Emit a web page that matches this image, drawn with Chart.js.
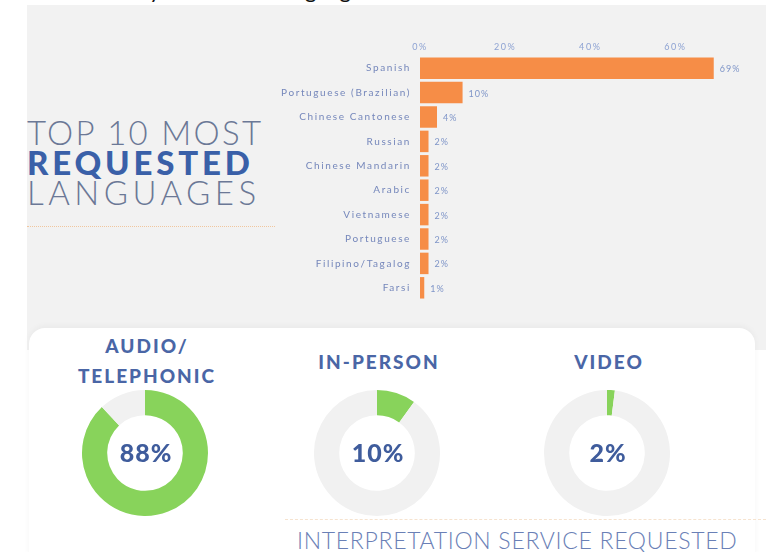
<!DOCTYPE html>
<html>
<head>
<meta charset="utf-8">
<script src="https://cdn.jsdelivr.net/npm/chart.js@4.4.0/dist/chart.umd.min.js"></script>
<style>
  html, body { margin: 0; padding: 0; background: #fff; }
  body { width: 766px; height: 552px; position: relative; overflow: hidden; font-family: Lato, sans-serif; }
  .head { position: absolute; left: 86px; top: -23px; font-size: 22px; line-height: 26px; color: #111; white-space: nowrap; }
  .grey { position: absolute; left: 27px; top: 5px; width: 739px; height: 345px; background: #f2f2f2; }
  .white { position: absolute; left: 29px; top: 328px; width: 726px; height: 240px; background: #fff;
           border-radius: 16px; box-shadow: 0 -2px 6px rgba(0,0,0,0.04); }
  .title { position: absolute; left: 27px; top: 117px; width: 260px; color: #6b7896; font-size: 33px;
           line-height: 30px; }
  .title div { white-space: nowrap; }
  .light { font-weight: 300; }
  .bold { font-weight: 900; color: #3a60a8; }
  .rule { position: absolute; left: 27px; top: 226px; width: 248px; border-top: 1px dotted #f1c79f; }
  .dtitle { position: absolute; text-align: center; font-weight: 900; color: #4a66a6; font-size: 19px;
            line-height: 30px; letter-spacing: 2px; }
  .foot { position: absolute; left: 297px; top: 526px; font-size: 23px; font-weight: 300; color: #6a80b6;
          white-space: nowrap; letter-spacing: 0.7px; }
  .fline { position: absolute; left: 285px; top: 519px; width: 481px; border-top: 1px dashed #f6e3cf; }
  canvas { position: absolute; }
</style>
</head>
<body>
<div class="head">Activity Overview: Languages</div>
<div class="grey"></div>
<div class="white"></div>

<div class="title">
  <div class="light" style="letter-spacing:2.3px">TOP 10 MOST</div>
  <div class="bold" style="letter-spacing:3.8px">REQUESTED</div>
  <div class="light" style="letter-spacing:4.5px">LANGUAGES</div>
</div>
<div class="rule"></div>

<div style="position:absolute;left:270px;top:30px;width:496px;height:285px;">
  <canvas id="langChart"></canvas>
</div>

<div class="dtitle" style="left:62px;top:331px;width:170px;">AUDIO/<br>TELEPHONIC</div>
<div class="dtitle" style="left:294px;top:347px;width:170px;">IN-PERSON</div>
<div class="dtitle" style="left:524px;top:347px;width:170px;">VIDEO</div>

<div style="position:absolute;left:82px;top:390px;width:126px;height:126px;"><canvas id="audio"></canvas></div>
<div style="position:absolute;left:314px;top:390px;width:126px;height:126px;"><canvas id="inperson"></canvas></div>
<div style="position:absolute;left:544px;top:390px;width:126px;height:126px;"><canvas id="video"></canvas></div>

<div class="fline"></div>
<div class="foot">INTERPRETATION SERVICE REQUESTED</div>

<script>
// top 10 languages, percent of requests
const languages = ['Spanish', 'Portuguese (Brazilian)', 'Chinese Cantonese', 'Russian', 'Chinese Mandarin',
                   'Arabic', 'Vietnamese', 'Portuguese', 'Filipino/Tagalog', 'Farsi'];
const langShare = [69, 10, 4, 2, 2, 2, 2, 2, 2, 1];
const axisTicks = [0, 20, 40, 60];

// interpretation service type, percent
const serviceTypes = ['Audio/Telephonic', 'In-Person', 'Video'];
const serviceShare = [88, 10, 2];

const orange = '#f68d47';
const green = '#88d35b';
const track = '#f1f1f1';

// wider lettering for the small chart text
const spacing = {
    id: 'spacing',
    beforeDraw(chart) { chart.ctx.letterSpacing = '1.6px'; },
    afterDraw(chart) { chart.ctx.letterSpacing = '0px'; }
};

// percent text at the end of each bar
const barValues = {
    id: 'barValues',
    afterDatasetsDraw(chart) {
        const ctx = chart.ctx;
        const meta = chart.getDatasetMeta(0);
        ctx.save();
        ctx.font = '9px Lato';
        ctx.letterSpacing = '1px';
        ctx.fillStyle = '#7f95c8';
        ctx.textBaseline = 'middle';
        meta.data.forEach((bar, i) => {
            ctx.fillText(langShare[i] + '%', bar.x + 6, bar.y + 1);
        });
        ctx.restore();
    }
};

const langConfig = {
    type: 'bar',
    data: {
        labels: languages,
        datasets: [{
            data: langShare,
            backgroundColor: orange,
            barPercentage: 0.88,
            categoryPercentage: 1
        }]
    },
    options: {
        indexAxis: 'y',
        responsive: true,
        maintainAspectRatio: false,
        animation: false,
        layout: { padding: { left: 0, right: 48, top: 0, bottom: 10 } },
        plugins: { legend: { display: false }, tooltip: { enabled: false } },
        scales: {
            x: {
                position: 'top',
                min: 0,
                max: 70,
                afterBuildTicks: (scale) => { scale.ticks = axisTicks.map(v => ({ value: v })); },
                afterFit: (scale) => { scale.height = 26; },
                grid: { display: false, drawTicks: false },
                border: { display: false },
                ticks: {
                    callback: (v) => v + '%',
                    color: '#8ea3d3',
                    font: { size: 9, family: 'Lato' },
                    padding: 4
                }
            },
            y: {
                afterFit: (scale) => { scale.width = 150; },
                grid: { display: false, drawTicks: false },
                border: { display: false },
                ticks: {
                    color: '#7587bb',
                    font: { size: 10, family: 'Lato' },
                    padding: 9
                }
            }
        }
    },
    plugins: [spacing, barValues]
};

// big percentage in the middle of each ring
const centerText = {
    id: 'centerText',
    afterDraw(chart) {
        const ctx = chart.ctx;
        const { left, right, top, bottom } = chart.chartArea;
        ctx.save();
        ctx.font = '900 25px Lato';
        ctx.letterSpacing = '1px';
        ctx.fillStyle = '#3f5c9c';
        ctx.textAlign = 'center';
        ctx.textBaseline = 'middle';
        ctx.fillText(chart.data.datasets[0].data[0] + '%', (left + right) / 2 + 1, (top + bottom) / 2 + 1);
        ctx.restore();
    }
};

function ringConfig(i) {
    return {
        type: 'doughnut',
        data: {
            labels: [serviceTypes[i], 'Other'],
            datasets: [{
                data: [serviceShare[i], 100 - serviceShare[i]],
                backgroundColor: [green, track],
                borderWidth: 0
            }]
        },
        options: {
            responsive: true,
            maintainAspectRatio: false,
            animation: false,
            cutout: '60%',
            plugins: { legend: { display: false }, tooltip: { enabled: false } }
        },
        plugins: [centerText]
    };
}

window.onload = function () {
    new Chart(document.getElementById('langChart').getContext('2d'), langConfig);
    new Chart(document.getElementById('audio').getContext('2d'), ringConfig(0));
    new Chart(document.getElementById('inperson').getContext('2d'), ringConfig(1));
    new Chart(document.getElementById('video').getContext('2d'), ringConfig(2));
};
</script>
</body>
</html>
